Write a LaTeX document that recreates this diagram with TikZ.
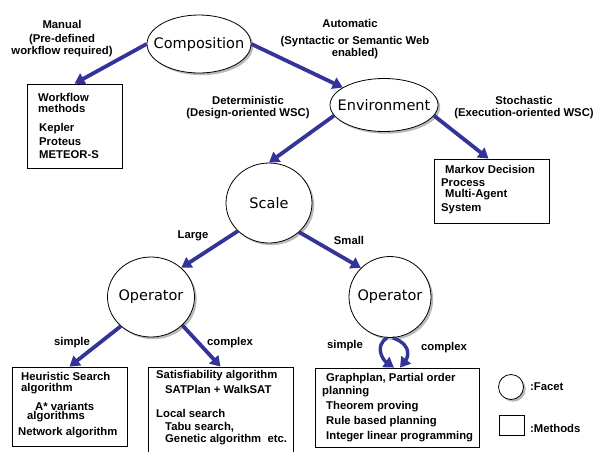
\documentclass[tikz,border=0pt]{standalone}
\usepackage{fontspec}
\setmainfont{Liberation Sans}
\newfontfamily\facetfont{DejaVu Sans}
\usetikzlibrary{arrows.meta,shapes.geometric,shadows}
\definecolor{arrowblue}{RGB}{51,51,153}
\tikzset{
  facet/.style={ellipse, draw=black, line width=0.8pt, fill=white, inner sep=0pt,
    drop shadow={shadow xshift=2.2pt, shadow yshift=-2.2pt, fill=black!55}},
  facettext/.style={font=\facetfont\fontsize{14.5}{16}\selectfont, inner sep=0pt},
  methodbox/.style={draw=black, line width=0.8pt, fill=white, inner sep=0pt},
  txt/.style={font=\bfseries\fontsize{11.3}{12}\selectfont, inner sep=0pt, anchor=west},
  lbl/.style={font=\bfseries\fontsize{11.3}{12}\selectfont, inner sep=0pt, align=center},
  conn/.style={draw=arrowblue, line width=3.8pt, -{Triangle[width=12pt,length=10pt]}},
}
\begin{document}
\begin{tikzpicture}[x=1pt,y=-1pt]
\useasboundingbox (0,0) rectangle (593,451);
\clip (0,0) rectangle (593,451);

% facets
\node[facet, minimum width=104pt, minimum height=58pt] (comp) at (199,44) {};
\node[facettext] (compt) at (comp) {Composition};
\node[facet, minimum width=108pt, minimum height=53pt] (env) at (384,105) {};
\node[facettext] (envt) at (env) {Environment};
\node[facet, minimum width=86pt, minimum height=80pt] (scale) at (269,203) {};
\node[facettext] (scalet) at (scale) {Scale};
\node[facet, minimum width=87pt, minimum height=80pt] (opl) at (151,297) {};
\node[facettext] (oplt) at (opl) {Operator};
\node[facet, minimum width=82pt, minimum height=81pt] (opr) at (390,297) {};
\node[facettext] (oprt) at (opr) {Operator};

% method boxes
\node[methodbox, minimum width=95pt, minimum height=84pt] (wf) at (74.5,126) {};
\node[methodbox, minimum width=115pt, minimum height=64pt] (mk) at (491.5,191) {};
\node[methodbox, minimum width=115pt, minimum height=79pt] (heur) at (69.5,406.5) {};
\node[methodbox, minimum width=145pt, minimum height=100pt] (sat) at (220.5,417) {};
\node[methodbox, minimum width=164pt, minimum height=79pt] (gp) at (397,407.5) {};

% box texts
\node[txt] (wf1) at (38,97) {Workflow};
\node[txt] (wf2) at (38,108) {methods};
\node[txt] (wf3) at (39,129) {Kepler};
\node[txt] (wf4) at (39,142) {Proteus};
\node[txt] (wf5) at (39,155) {METEOR-S};

\node[txt] (mk1) at (445,169) {Markov Decision};
\node[txt] (mk2) at (441,183) {Process};
\node[txt] (mk3) at (445,195) {Multi-Agent};
\node[txt] (mk4) at (441,209) {System};

\node[txt] (h1) at (21,376) {Heuristic Search};
\node[txt] (h2) at (21,389) {algorithm};
\node[txt] (h3) at (35,406) {A* variants};
\node[txt] (h4) at (27,417) {algorithms};
\node[txt] (h5) at (18,433) {Network algorithm};

\node[txt] (s1) at (156,376) {Satisfiability algorithm};
\node[txt] (s2) at (165,389) {SATPlan + WalkSAT};
\node[txt] (s3) at (156,413) {Local search};
\node[txt] (s4) at (165,427) {Tabu search,};
\node[txt] (s5) at (165,440) {Genetic algorithm\ \ etc.};

\node[txt] (g1) at (326,379) {Graphplan, Partial order};
\node[txt] (g2) at (322,392) {planning};
\node[txt] (g3) at (326,407) {Theorem proving};
\node[txt] (g4) at (326,422) {Rule based planning};
\node[txt] (g5) at (326,437) {Integer linear programming};

% edge labels
\node[lbl] (l1) at (62,24) {Manual};
\node[lbl] (l2) at (62,46) {(Pre-defined\\workflow required)};
\node[lbl] (l3) at (350,23) {Automatic};
\node[lbl] (l4) at (355,48) {(Syntactic or Semantic Web\\enabled)};
\node[lbl] (l5) at (248,108) {Deterministic\\(Design-oriented WSC)};
\node[lbl] (l6) at (524,108) {Stochastic\\(Execution-oriented WSC)};
\node[lbl] (l7) at (193,236) {Large};
\node[lbl] (l8) at (349,240) {Small};
\node[lbl] (l9) at (72,343) {simple};
\node[lbl] (l10) at (230,343) {complex};
\node[lbl] (l11) at (345,346) {simple};
\node[lbl] (l12) at (444,348) {complex};

% connectors
\draw[conn] (comp.west) -- (wf.north);
\draw[conn] (comp.east) -- (env.157);
\draw[conn] (env.-12) -- ([xshift=-3pt]mk.north);
\draw[conn] (env.192) -- (scale.north);
\draw[conn] (scale.222) -- (opl.44);
\draw[conn] (scale.-44) -- (opr.135);
\draw[conn] (opl.224) -- (heur.north);
\draw[conn] (opl.-42) -- (sat.north);
\draw[conn, line width=3.4pt] (opr.-94) .. controls (374,346) and (383,360) .. ([xshift=-3pt]gp.north);
\draw[conn, line width=3.4pt] (opr.-86) .. controls (415,346) and (406,360) .. ([xshift=3pt]gp.north);

% legend
\node[facet, circle, minimum size=25pt] (legc) at (511,387) {};
\node[lbl, anchor=west] (legct) at (530,387) {:Facet};
\node[methodbox, minimum width=25pt, minimum height=20pt] (legb) at (511.5,425) {};
\node[lbl, anchor=west] (legbt) at (530,428) {:Methods};
\end{tikzpicture}
\end{document}
